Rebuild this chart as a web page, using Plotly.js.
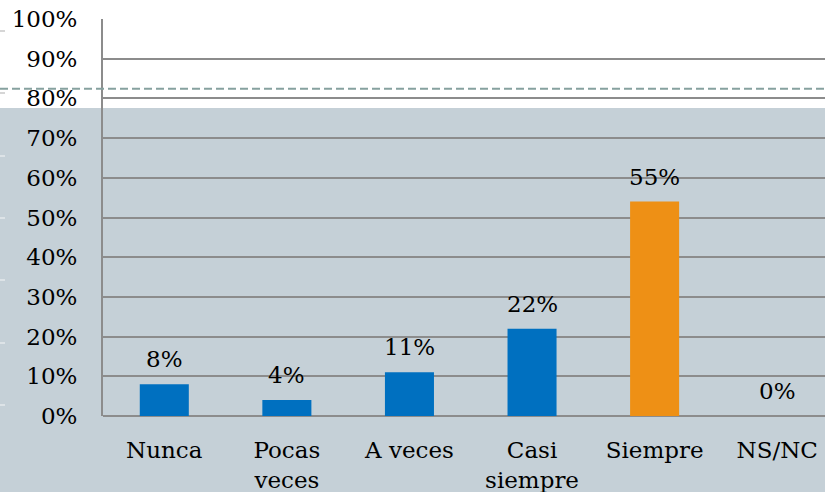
<!DOCTYPE html>
<html>
<head>
<meta charset="utf-8">
<script src="https://cdn.plot.ly/plotly-3.0.1.min.js"></script>
<style>html,body{margin:0;padding:0;background:#fff;overflow:hidden}#chart{width:825px;height:492px}</style>
</head>
<body>
<div id="chart"></div>
<script>
var categories = ["Nunca", "Pocas<br>veces", "A veces", "Casi<br>siempre", "Siempre", "NS/NC"];
var values = [8, 4, 11, 22, 54, 0];
var valueLabels = ["8%", "4%", "11%", "22%", "55%", "0%"];
var barColors = ["#0070c0", "#0070c0", "#0070c0", "#0070c0", "#ee9015", "#0070c0"];
var tickValues = [0, 10, 20, 30, 40, 50, 60, 70, 80, 90, 100];
var tickLabels = ["0%", "10%", "20%", "30%", "40%", "50%", "60%", "70%", "80%", "90%", "100%"];
var referenceLevel = 82.4;

var FONT = "DejaVu Serif, serif";
var FS = 23;

var trace = {
  type: "bar",
  x: categories,
  y: values,
  width: 0.4,
  marker: {color: barColors, line: {width: 0}},
  hoverinfo: "none"
};

var annotations = categories.map(function (c, i) {
  return {
    x: c, y: values[i], xref: "x", yref: "y",
    text: valueLabels[i], showarrow: false,
    yanchor: "middle", yshift: 25,
    font: {family: FONT, size: FS, color: "#000"}
  };
});

// plot area: x 103..825 px, y 19..416 px
var pw = 722, ph = 397;
function px2paperX(p) { return (p - 103) / pw; }
function px2paperY(p) { return (416 - p) / ph; }

var shapes = [
  {type: "rect", xref: "paper", yref: "paper", layer: "below",
   x0: px2paperX(0), x1: px2paperX(830), y0: px2paperY(495), y1: px2paperY(108),
   fillcolor: "#c5d0d7", line: {width: 0}},
  {type: "line", xref: "paper", yref: "y", layer: "above",
   x0: px2paperX(0), x1: px2paperX(830), y0: referenceLevel, y1: referenceLevel,
   line: {color: "#86a19f", width: 2, dash: "8px,4px"}}
];
[31, 93, 156, 218, 280, 343, 405].forEach(function (yy) {
  shapes.push({type: "line", xref: "paper", yref: "paper", layer: "below",
    x0: px2paperX(0), x1: px2paperX(5), y0: px2paperY(yy), y1: px2paperY(yy),
    line: {color: yy < 108 ? "#d6d6d6" : "#dde3e7", width: 2}});
});

var layout = {
  width: 825, height: 492,
  margin: {l: 103, r: 0, t: 19, b: 76, pad: 0},
  paper_bgcolor: "#ffffff",
  plot_bgcolor: "rgba(0,0,0,0)",
  showlegend: false,
  bargap: 0.6,
  xaxis: {
    type: "category",
    range: [-0.5, 5.39],
    showgrid: false, zeroline: false,
    showline: false,
    ticks: "", ticklabelstandoff: 18,
    tickfont: {family: FONT, size: FS, color: "#000"},
    fixedrange: true
  },
  yaxis: {
    range: [0, 100],
    tickvals: tickValues, ticktext: tickLabels,
    showgrid: true, gridcolor: "#8c8c8c", gridwidth: 2,
    zeroline: true, zerolinecolor: "#8c8c8c", zerolinewidth: 2,
    showline: true, linecolor: "#8c8c8c", linewidth: 2,
    ticks: "", ticklabelstandoff: 19,
    tickfont: {family: FONT, size: FS, color: "#000"},
    fixedrange: true
  },
  annotations: annotations,
  shapes: shapes
};

Plotly.newPlot("chart", [trace], layout, {displayModeBar: false, staticPlot: true});
</script>
</body>
</html>
